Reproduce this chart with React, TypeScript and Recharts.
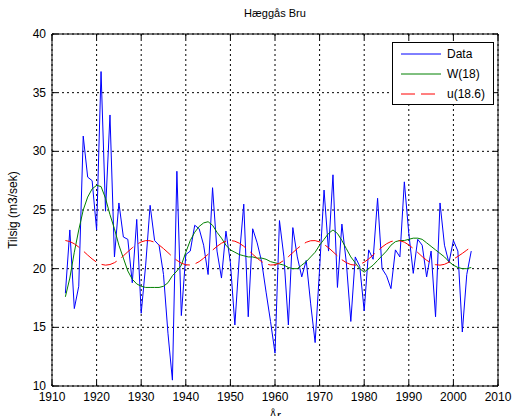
import React from 'react';
import { LineChart, Line, XAxis, YAxis, CartesianGrid, ReferenceArea } from 'recharts';

const years = [
  1913, 1914, 1915, 1916, 1917, 1918, 1919, 1920, 1921, 1922,
  1923, 1924, 1925, 1926, 1927, 1928, 1929, 1930, 1931, 1932,
  1933, 1934, 1935, 1936, 1937, 1938, 1939, 1940, 1941, 1942,
  1943, 1944, 1945, 1946, 1947, 1948, 1949, 1950, 1951, 1952,
  1953, 1954, 1955, 1956, 1957, 1958, 1959, 1960, 1961, 1962,
  1963, 1964, 1965, 1966, 1967, 1968, 1969, 1970, 1971, 1972,
  1973, 1974, 1975, 1976, 1977, 1978, 1979, 1980, 1981, 1982,
  1983, 1984, 1985, 1986, 1987, 1988, 1989, 1990, 1991, 1992,
  1993, 1994, 1995, 1996, 1997, 1998, 1999, 2000, 2001, 2002,
  2003, 2004,
];

const dataValues = [
  17.9, 23.3, 16.6, 18.5, 31.3, 27.8, 27.5, 23.3, 36.8, 24.9,
  33.1, 21.0, 25.6, 22.7, 22.5, 18.8, 24.2, 16.2, 20.3, 25.4,
  22.4, 22.0, 19.5, 14.5, 10.5, 28.3, 16.0, 21.2, 21.5, 23.7,
  23.4, 22.0, 19.5, 26.9, 21.5, 19.2, 23.2, 20.5, 15.2, 21.0,
  25.5, 15.9, 23.4, 22.2, 20.6, 18.0, 15.5, 12.8, 24.1, 21.0,
  15.2, 23.5, 21.0, 19.3, 20.7, 17.0, 13.7, 20.0, 26.7, 21.5,
  28.0, 18.4, 23.8, 20.5, 15.5, 21.0, 20.2, 16.4, 21.6, 20.8,
  26.0, 20.0, 19.4, 18.3, 21.6, 21.0, 27.4, 23.0, 19.6, 22.5,
  22.0, 19.3, 21.5, 15.9, 25.6, 22.0, 20.5, 22.4, 21.5, 14.6,
  19.5, 21.5,
];

const w18Values = [
  17.6, 19.2, 21.4, 23.3, 25.0, 26.1, 26.8, 27.1, 27.0, 26.0,
  24.6, 23.4, 22.0, 20.9, 19.8, 19.1, 18.7, 18.5, 18.4, 18.4,
  18.4, 18.4, 18.5, 18.8, 19.4, 19.8, 20.3, 21.4, 22.4, 23.1,
  23.6, 23.9, 24.0, 23.7, 23.1, 22.6, 22.0, 21.6, 21.4, 21.2,
  21.1, 21.0, 21.0, 20.9, 20.9, 20.8, 20.6, 20.5, 20.4, 20.3,
  20.1, 20.0, 20.0, 20.3, 20.6, 21.0, 21.4, 22.0, 22.5, 23.0,
  23.3, 23.0, 22.4, 21.7, 21.0, 20.5, 20.0, 19.7, 20.0, 20.3,
  20.7, 21.1, 21.5, 22.0, 22.3, 22.4, 22.4, 22.5, 22.6, 22.6,
  22.5, 22.2, 21.9, 21.6, 21.3, 21.0, 20.6, 20.3, 20.1, 20.0,
  20.0, 20.1,
];

const u186Values = [
  22.40, 22.31, 22.12, 21.84, 21.51, 21.16, 20.83, 20.55, 20.37, 20.30,
  20.35, 20.51, 20.76, 21.09, 21.44, 21.78, 22.07, 22.28, 22.39, 22.38,
  22.25, 22.02, 21.71, 21.37, 21.02, 20.71, 20.47, 20.33, 20.31, 20.40,
  20.60, 20.89, 21.23, 21.58, 21.90, 22.17, 22.34, 22.40, 22.34, 22.17,
  21.91, 21.58, 21.23, 20.89, 20.60, 20.40, 20.31, 20.33, 20.47, 20.71,
  21.02, 21.37, 21.71, 22.02, 22.25, 22.38, 22.39, 22.28, 22.07, 21.78,
  21.44, 21.09, 20.76, 20.51, 20.35, 20.30, 20.37, 20.55, 20.83, 21.16,
  21.51, 21.84, 22.12, 22.31, 22.40, 22.38, 22.26, 22.02, 21.72, 21.38,
  21.03, 20.72, 20.48, 20.34, 20.30, 20.37, 20.55, 20.80, 21.05, 21.30,
  21.58, 21.85,
];

const xTicks = [1910, 1920, 1930, 1940, 1950, 1960, 1970, 1980, 1990, 2000, 2010];
const yTicks = [10, 15, 20, 25, 30, 35, 40];

const chartData = years.map((year, i) => ({
  year,
  data: dataValues[i],
  w18: w18Values[i],
  u186: u186Values[i],
}));

const FONT = '"Liberation Sans", Arial, Helvetica, sans-serif';
const W = 512;
const H = 416;
const PLOT_LEFT = 52;
const PLOT_RIGHT = 498;
const PLOT_TOP = 34;
const PLOT_BOTTOM = 386;

const XTick = (props: any) => {
  const { x, payload } = props;
  return (
    <g>
      <line x1={x} x2={x} y1={PLOT_BOTTOM} y2={PLOT_BOTTOM - 5} stroke="#000" />
      <line x1={x} x2={x} y1={PLOT_TOP} y2={PLOT_TOP + 5} stroke="#000" />
      <text x={x} y={PLOT_BOTTOM + 15} textAnchor="middle" fontSize={12} fontFamily={FONT} fill="#000">
        {payload.value}
      </text>
    </g>
  );
};

const YTick = (props: any) => {
  const { y, payload } = props;
  return (
    <g>
      <line x1={PLOT_LEFT} x2={PLOT_LEFT + 5} y1={y} y2={y} stroke="#000" />
      <line x1={PLOT_RIGHT} x2={PLOT_RIGHT - 5} y1={y} y2={y} stroke="#000" />
      <text x={PLOT_LEFT - 6} y={y + 4} textAnchor="end" fontSize={12} fontFamily={FONT} fill="#000">
        {payload.value}
      </text>
    </g>
  );
};

const legendItems = [
  { label: 'Data', color: '#0000ff', dash: undefined as string | undefined },
  { label: 'W(18)', color: '#008000', dash: undefined as string | undefined },
  { label: 'u(18.6)', color: '#ff0000', dash: '14 6' },
];

export default function App() {
  return (
    <div style={{ position: 'absolute', left: 0, top: 0, width: W, height: H, background: '#fff' }}>
      <LineChart
        width={W}
        height={H}
        data={chartData}
        margin={{ top: PLOT_TOP, right: W - PLOT_RIGHT, bottom: 0, left: 0 }}
      >
        <CartesianGrid
          stroke="#000"
          strokeDasharray="2 3"
          verticalPoints={undefined}
          horizontal
          vertical
        />
        <XAxis
          dataKey="year"
          type="number"
          domain={[1910, 2010]}
          ticks={xTicks}
          interval={0}
          height={H - PLOT_BOTTOM}
          tick={<XTick />}
          tickLine={false}
          axisLine={false}
          label={{
            content: () => (
              <text x={(PLOT_LEFT + PLOT_RIGHT) / 2} y={420} textAnchor="middle" fontSize={12} fontFamily={FONT} fill="#000">
                År
              </text>
            ),
          }}
        />
        <YAxis
          type="number"
          domain={[10, 40]}
          ticks={yTicks}
          interval={0}
          width={PLOT_LEFT}
          tick={<YTick />}
          tickLine={false}
          axisLine={false}
          label={{
            content: () => (
              <text
                x={17}
                y={210}
                transform="rotate(-90 17 210)"
                textAnchor="middle"
                fontSize={12}
                fontFamily={FONT}
                fill="#000"
              >
                Tilsig (m3/sek)
              </text>
            ),
          }}
        />
        <Line type="linear" dataKey="data" stroke="#0000ff" strokeWidth={1} dot={false} isAnimationActive={false} />
        <Line type="linear" dataKey="w18" stroke="#008000" strokeWidth={1} dot={false} isAnimationActive={false} />
        <Line
          type="linear"
          dataKey="u186"
          stroke="#ff0000"
          strokeWidth={1}
          strokeDasharray="16 6"
          dot={false}
          isAnimationActive={false}
        />
        <ReferenceArea x1={1910} x2={2010} y1={10} y2={40} fill="none" stroke="#000" strokeWidth={1} />
      </LineChart>
      <div
        style={{
          position: 'absolute',
          left: 0,
          top: 6,
          width: (PLOT_LEFT + PLOT_RIGHT),
          textAlign: 'center',
          fontFamily: FONT,
          fontSize: 11,
          color: '#000',
          lineHeight: '14px',
        }}
      >
        Hæggås Bru
      </div>
      <div
        style={{
          position: 'absolute',
          left: 392,
          top: 42,
          width: 100,
          height: 61,
          border: '1px solid #000',
          background: '#fff',
        }}
      >
        <svg width={100} height={61} style={{ display: 'block' }}>
          {legendItems.map((item, i) => (
            <g key={item.label}>
              <line
                x1={8}
                x2={48}
                y1={11 + i * 20}
                y2={11 + i * 20}
                stroke={item.color}
                strokeWidth={1}
                strokeDasharray={item.dash}
              />
              <text x={54} y={15 + i * 20} fontSize={12} fontFamily={FONT} fill="#000">
                {item.label}
              </text>
            </g>
          ))}
        </svg>
      </div>
    </div>
  );
}
